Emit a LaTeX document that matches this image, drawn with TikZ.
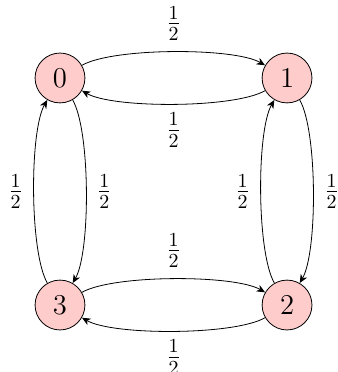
\documentclass[tikz,border=0pt]{standalone}
\usetikzlibrary{arrows.meta}
\begin{document}
\begin{tikzpicture}[>={Stealth[length=4.2pt, width=3.6pt, inset=1.2pt]}, state/.style={circle, draw, fill=red!20, minimum size=25pt, font=\Large}, every edge/.style={draw, ->, bend left=30, looseness=0.5}]
	\useasboundingbox (-1.057,-1.18) rectangle (4.898,5.374);
	
	\node[state] (s0) at (0,4) {$0$};
	\node[state] (s1) at (4,4) {$1$};
	\node[state] (s2) at (4,0) {$2$};
	\node[state] (s3) at (0,0) {$3$};
	
	\path[every node/.style={font=\Large}]
	      (s0) edge node[above=2pt] {$\frac{1}{2}$} (s1)
	      (s1) edge node[below=1pt] {$\frac{1}{2}$} (s0)
	      (s3) edge node[above=2pt] {$\frac{1}{2}$} (s2)
	      (s2) edge node[below=1pt] {$\frac{1}{2}$} (s3)
	      (s0) edge node[right=2pt] {$\frac{1}{2}$} (s3)
	      (s3) edge node[left=2pt] {$\frac{1}{2}$} (s0)
	      (s1) edge node[right=2pt] {$\frac{1}{2}$} (s2)
	      (s2) edge node[left=2pt] {$\frac{1}{2}$} (s1);
\end{tikzpicture}
\end{document}
